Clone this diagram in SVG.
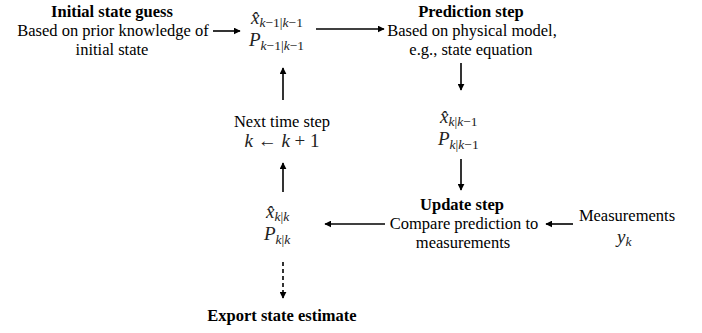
<svg xmlns="http://www.w3.org/2000/svg" width="702" height="333" viewBox="0 0 702 333">
<style>
text{font-family:"Liberation Serif","Times New Roman",serif;fill:#000;}
.t{font-size:16.5px;text-anchor:middle;}
.b{font-size:16.5px;font-weight:bold;text-anchor:middle;}
.m{font-size:19px;font-style:italic;fill:#222;}
.s{font-size:13.5px;font-style:italic;}
.u{font-style:normal;}
.c{stroke:#000;stroke-width:1.6;fill:none;}
.d{stroke:#000;stroke-width:1.6;fill:none;stroke-dasharray:4 3;}
</style>
<defs>
<marker id="ah" viewBox="0 0 10 10" refX="9" refY="5" markerWidth="7" markerHeight="7" markerUnits="userSpaceOnUse" orient="auto">
<path d="M0,0 L10,5 L0,10 z" fill="#000"/>
</marker>
</defs>
<g id="connectors">
<line class="c" x1="213" y1="31" x2="240" y2="31" marker-end="url(#ah)"/>
<line class="c" x1="316" y1="29" x2="384" y2="29" marker-end="url(#ah)"/>
<line class="c" x1="461" y1="63" x2="461" y2="90" marker-end="url(#ah)"/>
<line class="c" x1="461" y1="159" x2="461" y2="190" marker-end="url(#ah)"/>
<line class="c" x1="573" y1="224" x2="546" y2="224" marker-end="url(#ah)"/>
<line class="c" x1="385" y1="224" x2="325" y2="224" marker-end="url(#ah)"/>
<line class="d" x1="283" y1="262" x2="283" y2="298" marker-end="url(#ah)"/>
<line class="c" x1="283" y1="192" x2="283" y2="163" marker-end="url(#ah)"/>
<line class="c" x1="283" y1="100" x2="283" y2="68" marker-end="url(#ah)"/>
</g>
<g id="initial">
<text class="b" x="112" y="17">Initial state guess</text>
<text class="t" x="113" y="36">Based on prior knowledge of</text>
<text class="t" x="112" y="55">initial state</text>
</g>
<g id="state-prev">
<text class="m" x="251" y="24">x&#x302;<tspan class="s" dy="3">k<tspan class="u">−1|</tspan>k<tspan class="u">−1</tspan></tspan></text>
<text class="m" x="249" y="46">P<tspan class="s" dy="4">k<tspan class="u">−1|</tspan>k<tspan class="u">−1</tspan></tspan></text>
</g>
<g id="prediction">
<text class="b" x="471" y="17">Prediction step</text>
<text class="t" x="472" y="36">Based on physical model,</text>
<text class="t" x="471" y="55">e.g., state equation</text>
</g>
<g id="state-pred">
<text class="m" x="440" y="123">x&#x302;<tspan class="s" dy="3">k<tspan class="u">|</tspan>k<tspan class="u">−1</tspan></tspan></text>
<text class="m" x="438" y="145">P<tspan class="s" dy="4">k<tspan class="u">|</tspan>k<tspan class="u">−1</tspan></tspan></text>
</g>
<g id="update">
<text class="b" x="462" y="210">Update step</text>
<text class="t" x="464" y="229">Compare prediction to</text>
<text class="t" x="463" y="248">measurements</text>
</g>
<g id="measurements">
<text class="t" x="627" y="221">Measurements</text>
<text class="m" x="617" y="243">y<tspan class="s" dy="3">k</tspan></text>
</g>
<g id="state-upd">
<text class="m" x="266" y="218">x&#x302;<tspan class="s" dy="3">k<tspan class="u">|</tspan>k</tspan></text>
<text class="m" x="264" y="240">P<tspan class="s" dy="4">k<tspan class="u">|</tspan>k</tspan></text>
</g>
<g id="next">
<text class="t" x="282" y="127">Next time step</text>
<text class="m" x="282" y="147" text-anchor="middle">k <tspan class="u">←</tspan> k <tspan class="u">+ 1</tspan></text>
</g>
<g id="export">
<text class="b" x="282" y="321">Export state estimate</text>
</g>
</svg>
